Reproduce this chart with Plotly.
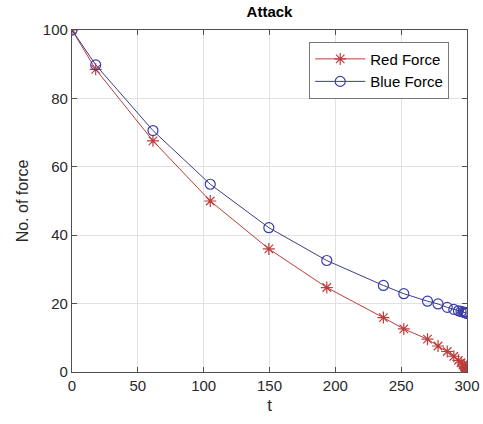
import plotly.graph_objects as go

# Time steps of the solver output (shared by both forces)
t = [0, 18, 61.5, 105, 149.5, 193.5, 236.5, 252, 270, 278, 285, 290,
     293.5, 295.5, 297, 298, 298.6, 299.1, 299.4, 299.6, 299.8, 299.9, 300]
# Remaining strength of each force
red_force = [100, 88.5, 67.6, 50, 36, 24.7, 15.9, 12.6, 9.6, 7.6, 6.0, 4.6,
             3.4, 2.7, 2.1, 1.6, 1.3, 1.0, 0.8, 0.6, 0.45, 0.35, 0.25]
blue_force = [100, 89.8, 70.6, 54.9, 42.2, 32.6, 25.3, 22.9, 20.7, 19.9, 18.9, 18.3,
              17.9, 17.7, 17.55, 17.45, 17.4, 17.35, 17.3, 17.27, 17.24, 17.22, 17.2]

x_ticks = [0, 50, 100, 150, 200, 250, 300]
y_ticks = [0, 20, 40, 60, 80, 100]

FONT = "Liberation Sans, Arial, sans-serif"

fig = go.Figure()
fig.add_trace(go.Scatter(
    x=t, y=red_force, name="Red Force", mode="lines+markers",
    line=dict(color="rgb(190,60,60)", width=1),
    marker=dict(symbol="asterisk-open", size=10,
                line=dict(color="rgb(225,30,30)", width=1.2)),
))
fig.add_trace(go.Scatter(
    x=t, y=blue_force, name="Blue Force", mode="lines+markers",
    line=dict(color="rgb(60,62,130)", width=1),
    marker=dict(symbol="circle-open", size=10, color="rgb(60,62,170)",
                line=dict(color="rgb(60,62,170)", width=1.2)),
))

axis_common = dict(
    showgrid=True, gridcolor="rgb(225,225,225)", gridwidth=1,
    showline=True, linecolor="rgb(80,80,80)", linewidth=1.2, mirror="ticks",
    ticks="inside", ticklen=5, tickcolor="rgb(80,80,80)",
    zeroline=False, automargin=False,
    tickfont=dict(family=FONT, size=15, color="rgb(40,40,40)"),
)

fig.update_xaxes(range=[0, 300], tickvals=x_ticks,
                 title=dict(text="t", standoff=6,
                            font=dict(family=FONT, size=17, color="rgb(40,40,40)")),
                 **axis_common)
fig.update_yaxes(range=[0, 100], tickvals=y_ticks,
                 title=dict(text="No. of force", standoff=10,
                            font=dict(family=FONT, size=16, color="rgb(40,40,40)")),
                 **axis_common)

fig.update_layout(
    width=483, height=424,
    margin=dict(l=72, r=16, t=30, b=52),
    paper_bgcolor="white", plot_bgcolor="white",
    title=dict(text="<b>Attack</b>", x=0.5, xref="paper", xanchor="center",
               y=1 - 12 / 424, yanchor="middle",
               font=dict(family=FONT, size=15, color="black")),
    legend=dict(x=0.955, y=0.966, xanchor="right", yanchor="top",
                bgcolor="white", bordercolor="rgb(120,120,120)", borderwidth=1,
                font=dict(family=FONT, size=15, color="black"),
                tracegroupgap=0, itemwidth=50),
    showlegend=True,
)

fig.write_html("out.html")
